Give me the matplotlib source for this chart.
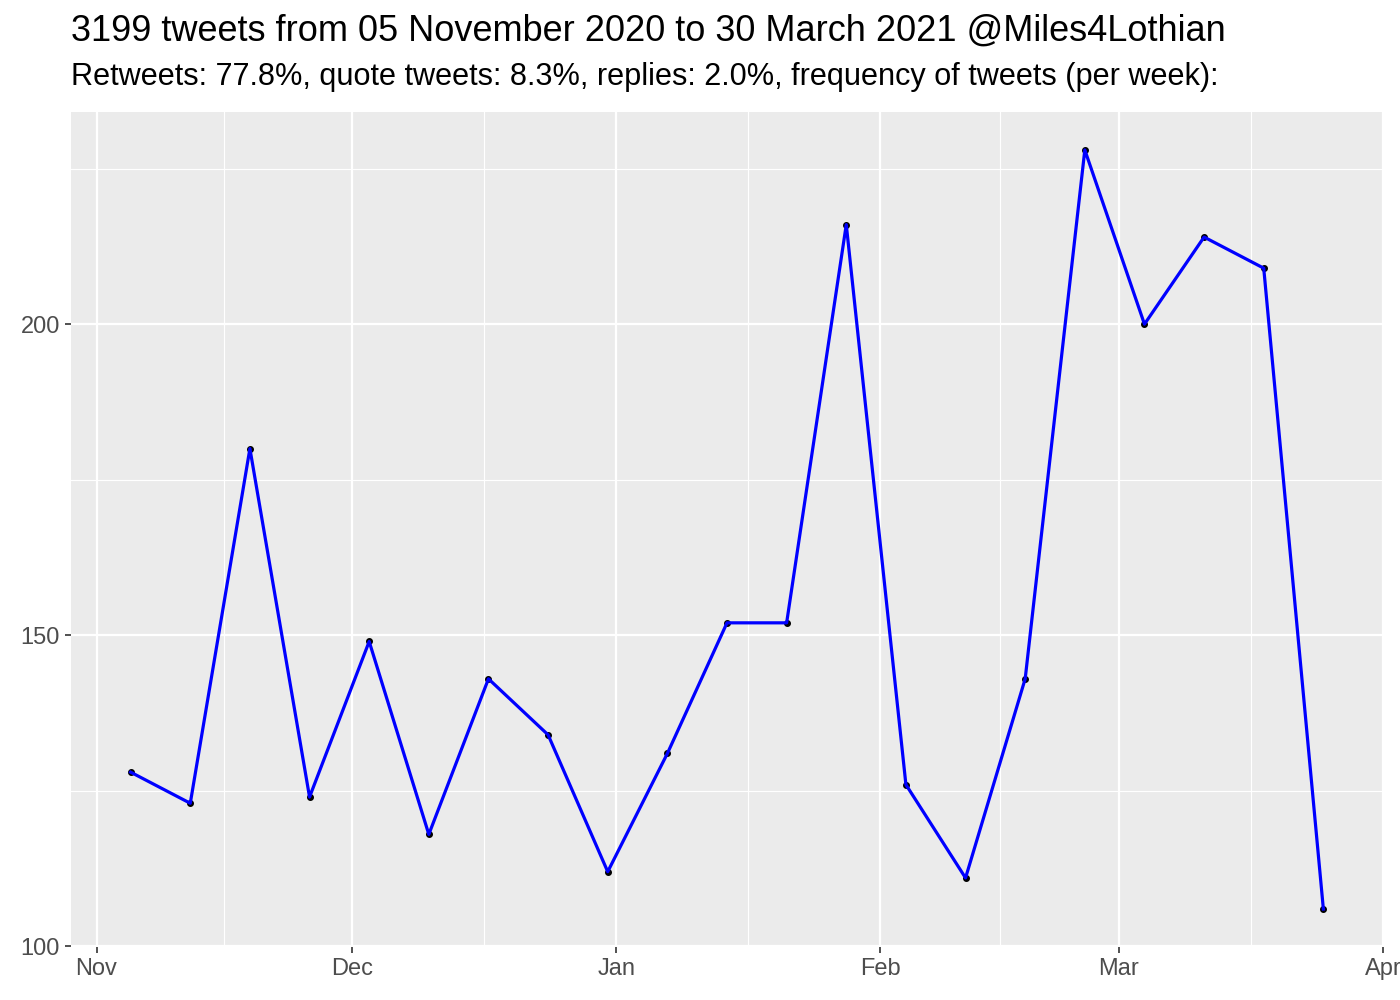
import numpy as np
import matplotlib
matplotlib.use('Agg')
import matplotlib.pyplot as plt
import matplotlib.dates as mdates
import datetime as dt

# weekly tweet counts, weeks starting 05 Nov 2020
week_start = dt.date(2020, 11, 5)
counts = [128, 123, 180, 124, 149, 118, 143, 134, 112, 131, 152,
          152, 216, 126, 111, 143, 228, 200, 214, 209, 106]
weeks = [week_start + dt.timedelta(days=7 * i) for i in range(len(counts))]

title = '3199 tweets from 05 November 2020 to 30 March 2021 @Miles4Lothian'
subtitle = 'Retweets: 77.8%, quote tweets: 8.3%, replies: 2.0%, frequency of tweets (per week):'

month_ticks = [dt.date(2020, 11, 1), dt.date(2020, 12, 1), dt.date(2021, 1, 1),
               dt.date(2021, 2, 1), dt.date(2021, 3, 1), dt.date(2021, 4, 1)]
month_labels = ['Nov', 'Dec', 'Jan', 'Feb', 'Mar', 'Apr']

plt.rcParams['font.family'] = ['Liberation Sans', 'DejaVu Sans']

bg = '#EBEBEB'
txt = '#4D4D4D'

fig = plt.figure(figsize=(14, 10), dpi=100)
ax = fig.add_axes([71/1400, 53/1000, (1383-71)/1400, (947-112)/1000])
ax.set_facecolor(bg)

x = mdates.date2num(weeks)
ax.plot(x, counts, 'o', color='black', markersize=4, zorder=3)
ax.plot(x, counts, color='#0000FF', linewidth=2.3, zorder=4)

# ggplot-like 5% expansion
span = x[-1] - x[0]
ax.set_xlim(x[0] - 0.05 * span, x[-1] + 0.05 * span)
yr = max(counts) - min(counts)
ax.set_ylim(min(counts) - 0.05 * yr, max(counts) + 0.05 * yr)

mt = mdates.date2num(month_ticks)
ax.set_xticks(mt)
ax.set_xticklabels(month_labels)
ax.set_xticks([(mt[i] + mt[i+1]) / 2 for i in range(len(mt) - 1)], minor=True)
ax.set_yticks([100, 150, 200])
ax.set_yticks([125, 175, 225], minor=True)

ax.grid(which='major', color='white', linewidth=1.6)
ax.grid(which='minor', color='white', linewidth=0.8)
ax.set_axisbelow(True)
for s in ax.spines.values():
    s.set_visible(False)

ax.tick_params(which='major', length=4, width=1.2, color='#333333',
               labelsize=17, labelcolor=txt, pad=4)
ax.tick_params(which='minor', length=0)

fig.text(71/1400, 1 - 31/1000, title, fontsize=26, va='center', ha='left', color='black')
fig.text(71/1400, 1 - 77/1000, subtitle, fontsize=22.1, va='center', ha='left', color='black')

fig.savefig('out.png', dpi=100)
